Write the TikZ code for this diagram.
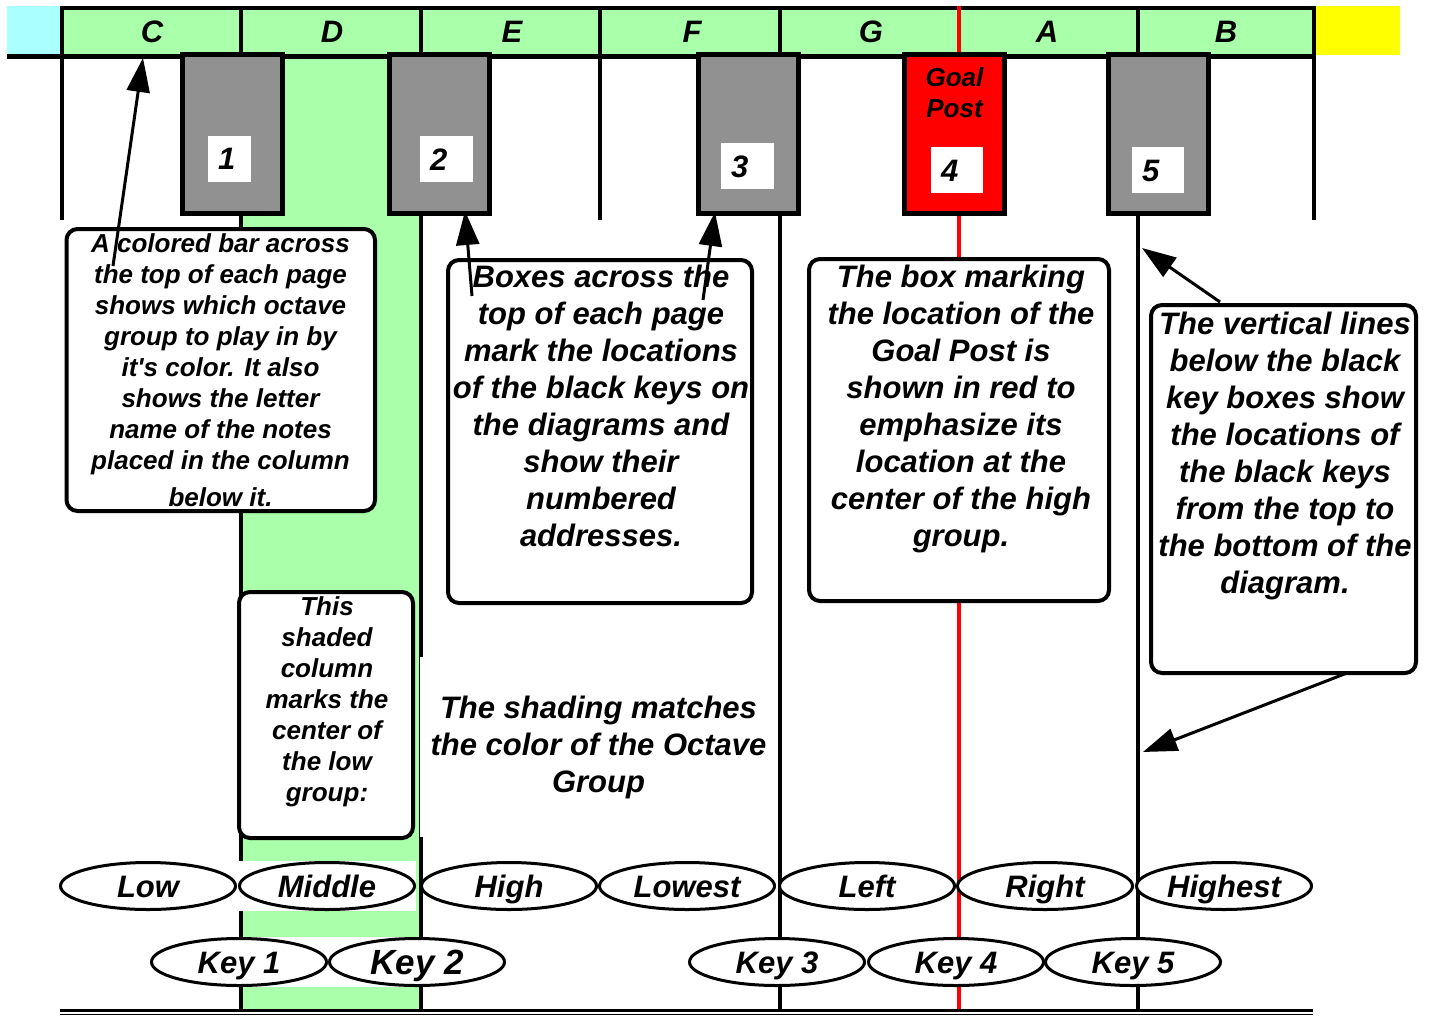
\documentclass[tikz,border=0pt]{standalone}
\usepackage{fontspec}
\setmainfont{Liberation Sans}
\usetikzlibrary{shapes.geometric,arrows.meta}
\definecolor{bargreen}{RGB}{170,255,170}
\definecolor{barcyan}{RGB}{170,255,255}
\definecolor{keygray}{RGB}{145,145,145}
\definecolor{postred}{RGB}{255,0,0}
\definecolor{baryellow}{RGB}{255,255,0}
\begin{document}
\begin{tikzpicture}[x=1pt,y=-1pt,
  fL/.style={font=\bfseries\itshape\fontsize{31pt}{37pt}\selectfont},
  fS/.style={font=\bfseries\itshape\fontsize{26pt}{31pt}\selectfont},
  vline/.style={line width=4pt},
  keybox/.style={draw, line width=5pt, fill=keygray, minimum width=100pt, minimum height=159pt, inner sep=0pt},
  numlab/.style={fL, fill=white, inner xsep=10pt, inner ysep=0pt, text width=32pt, align=left, minimum height=46pt, text height=22pt, text depth=0pt},
  letter/.style={fL, inner sep=0pt, anchor=base},
  callout/.style={draw, line width=4pt, fill=white, rounded corners=11pt, inner sep=0pt},
  ctext/.style={inner sep=0pt, align=center, anchor=north},
  ovalbg/.style={fill=white, minimum width=178pt, minimum height=50pt, inner sep=0pt},
  ovalsty/.style={ellipse, draw, line width=3pt, fill=white, minimum width=175pt, minimum height=47pt, inner sep=0pt, fL, text height=22pt, text depth=0pt},
  arr/.style={line width=3pt, -{Triangle[length=34pt,width=23pt]}},
]
\useasboundingbox (0,0) rectangle (1429,1015);
\fill[white] (0,0) rectangle (1429,1015);

% colour bar
\fill[barcyan] (7,6) rectangle (60,54);
\fill[baryellow] (1316,6) rectangle (1400,55);
\fill[bargreen] (62,8) rectangle (1314,56);
% shaded column
\fill[bargreen] (243,56) rectangle (419,1010);

% vertical lines
\draw[vline] (62,8) -- (62,220);
\draw[vline] (241,8) -- (241,1010);
\draw[vline] (421,8) -- (421,1010);
\draw[vline] (600,8) -- (600,220);
\draw[vline] (780,8) -- (780,1010);
\draw[vline] (1138,8) -- (1138,1010);
\draw[vline] (1314,8) -- (1314,220);
\draw[line width=4pt] (60,8) -- (1316,8);
\draw[line width=5pt] (7,56) -- (1316,56);
\draw[postred, line width=3.5pt] (959,6) -- (959,1010);

% bottom double line
\draw[line width=3pt] (60,1010.5) -- (1313,1010.5);
\draw[line width=1pt] (60,1014) -- (1313,1014);

% bar letters
\node[letter] (lC) at (152,42) {C};
\node[letter] (lD) at (332,42) {D};
\node[letter] (lE) at (512,42) {E};
\node[letter] (lF) at (692,42) {F};
\node[letter] (lG) at (871,42) {G};
\node[letter] (lA) at (1047,42) {A};
\node[letter] (lB) at (1226,42) {B};

% black key boxes
\node[keybox] (key1) at (232.5,134) {};
\node[keybox] (key2) at (439.5,134) {};
\node[keybox] (key3) at (748.5,134) {};
\node[keybox, fill=postred] (goal) at (954.5,134) {};
\node[keybox] (key5) at (1158.5,134) {};
\node[numlab, text width=23pt] (n1) at (229.5,158.5) {1};
\node[numlab, text width=33pt] (n2) at (446.5,159) {2};
\node[numlab, text width=33pt] (n3) at (747.5,166) {3};
\node[numlab] (n4) at (957,170) {4};
\node[numlab] (n5) at (1158,170) {5};
\node[ctext, font=\bfseries\itshape\fontsize{26pt}{31pt}\selectfont] (goaltxt) at (954.5,64.3) {\strut Goal\\Post};

% callouts
\node[callout, minimum width=308.5pt, minimum height=282pt] (boxbar) at (220.75,370) {};
\node[ctext, fS] (boxbartxt) at (220.5,230.3) {\strut A colored bar across\\the top of each page\\shows which octave\\group to play in by\\it\textquotesingle s color. It also\\shows the letter\\name of the notes\\placed in the column\\[6pt]below it.};

\node[callout, minimum width=304pt, minimum height=343pt] (boxkeys) at (600,431.5) {};
\node[ctext, fL] (boxkeystxt) at (601,261.1) {\strut Boxes across the\\top of each page\\mark the locations\\of the black keys on\\the diagrams and\\show their\\numbered\\addresses.};

\node[callout, minimum width=300pt, minimum height=342pt] (boxgoal) at (959,430) {};
\node[ctext, fL] (boxgoaltxt) at (961,261.1) {\strut The box marking\\the location of the\\Goal Post is\\shown in red to\\emphasize its\\location at the\\center of the high\\group.};

\node[callout, minimum width=265pt, minimum height=368pt] (boxlines) at (1283.5,489) {};
\node[ctext, fL] (boxlinestxt) at (1285,308.1) {\strut The vertical lines\\below the black\\key boxes show\\the locations of\\the black keys\\from the top to\\the bottom of the\\diagram.};

\node[callout, minimum width=174pt, minimum height=246pt] (boxshade) at (326,715) {};
\node[ctext, fS] (boxshadetxt) at (327,593.3) {\strut This\\shaded\\column\\marks the\\center of\\the low\\group:};

\node[fL, fill=white, align=center, minimum width=357pt, minimum height=180pt, inner sep=0pt] (shadetxt) at (598.5,747) {The shading matches\\the color of the Octave\\Group};

% ovals
\node[ovalbg] (middle bg) at (327,886) {};
\foreach \n/\x in {k1/239, k2/417, k3/777, k4/956, k5/1133}
  \node[ovalbg] (\n bg) at (\x,962) {};
\node[ovalsty] (low) at (148,886) {Low};
\node[ovalsty] (middle) at (327,886) {Middle};
\node[ovalsty] (high) at (509,886) {High};
\node[ovalsty] (lowest) at (687,886) {Lowest};
\node[ovalsty] (left) at (867,886) {Left};
\node[ovalsty] (right) at (1045,886) {Right};
\node[ovalsty] (highest) at (1224,886) {Highest};
\node[ovalsty] (k1) at (239,962) {Key 1};
\node[ovalsty, font=\bfseries\itshape\fontsize{35pt}{40pt}\selectfont, text height=25pt] (k2) at (417,962) {Key 2};
\node[ovalsty] (k3) at (777,962) {Key 3};
\node[ovalsty] (k4) at (956,962) {Key 4};
\node[ovalsty] (k5) at (1133,962) {Key 5};

% arrows
\coordinate (aCs) at (113,266);
\coordinate (aCt) at (143,58);
\coordinate (aK2s) at (472,296);
\coordinate (aK2t) at (465,211);
\coordinate (aK3s) at (703,300);
\coordinate (aK3t) at (715,212);
\coordinate (aL1s) at (1220,302);
\coordinate (aL1t) at (1142,248);
\coordinate (aL2s) at (1347,673);
\coordinate (aL2t) at (1143,752);
\draw[arr] (aCs) -- (aCt);
\draw[arr] (aK2s) -- (aK2t);
\draw[arr] (aK3s) -- (aK3t);
\draw[arr] (aL1s) -- (aL1t);
\draw[arr] (aL2s) -- (aL2t);
\end{tikzpicture}
\end{document}
